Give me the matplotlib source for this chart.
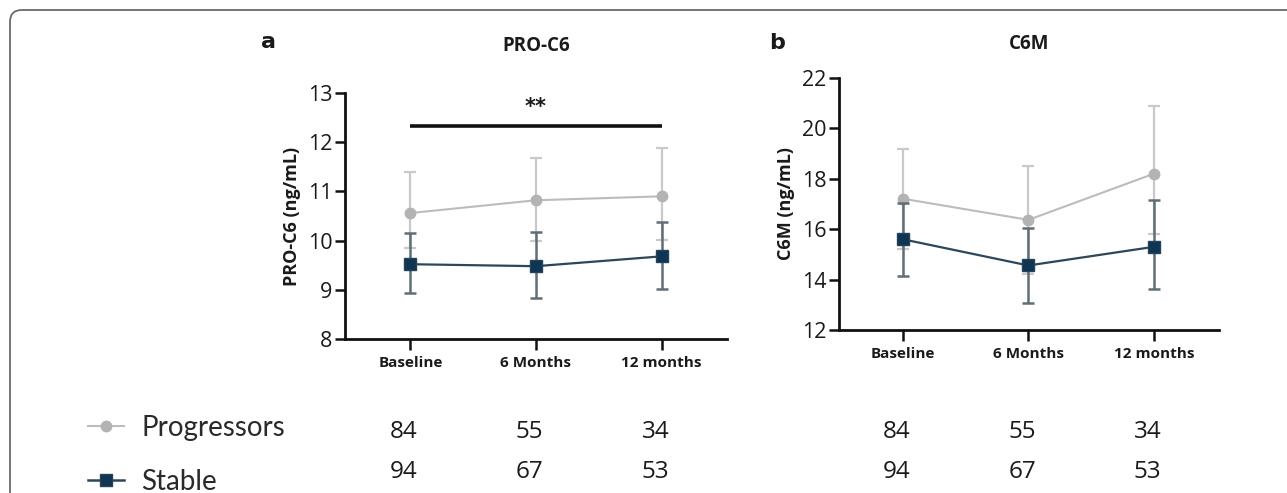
import matplotlib
matplotlib.use("Agg")
import matplotlib.pyplot as plt
import matplotlib.transforms as mtransforms
from matplotlib.lines import Line2D
from matplotlib.patches import FancyBboxPatch

# ---------------- data ----------------
timepoints = ["Baseline", "6 Months", "12 months"]

# Panel a: PRO-C6 (ng/mL)
proc6_prog_mean = [10.56, 10.82, 10.90]
proc6_prog_upper = [11.40, 11.68, 11.88]
proc6_prog_lower = [9.84, 10.00, 10.02]
proc6_stab_mean = [9.52, 9.48, 9.68]
proc6_stab_upper = [10.16, 10.18, 10.38]
proc6_stab_lower = [8.94, 8.84, 9.02]
proc6_sig_level = 12.32
proc6_sig_label = "**"

# Panel b: C6M (ng/mL)
c6m_prog_mean = [17.21, 16.37, 18.20]
c6m_prog_upper = [19.19, 18.52, 20.90]
c6m_prog_lower = [15.23, 14.22, 15.80]
c6m_stab_mean = [15.60, 14.56, 15.30]
c6m_stab_upper = [17.04, 16.03, 17.17]
c6m_stab_lower = [14.16, 13.09, 13.64]

# numbers at risk
n_progressors = [84, 55, 34]
n_stable = [94, 67, 53]

series_names = ["Progressors", "Stable"]

# ---------------- style ----------------
PROG_MARK = "#b3b3b3"
PROG_LINE = "#bcbcbc"
PROG_ERR = "#c9c9c9"
STAB_MARK = "#0f3552"
STAB_LINE = "#2e4657"
STAB_ERR = "#5f6e77"
TXT = "#1a1a1a"

W, H = 1287, 493
fig = plt.figure(figsize=(W / 100, H / 100), dpi=100)
fig.patch.set_facecolor("white")

# rounded frame around the figure
frame = FancyBboxPatch((0.10, -0.6), 13.6, 4.83 + 0.6, boxstyle="round,pad=0,rounding_size=0.12",
                       transform=fig.dpi_scale_trans, fill=False, edgecolor="#6a6a6a", linewidth=1.3,
                       clip_on=False)
fig.patches.append(frame)

def px_axes(left, right, bottom, top):
    return fig.add_axes([left / W, 1 - bottom / H, (right - left) / W, (bottom - top) / H])

ax_a = px_axes(345, 727, 339, 93)
ax_b = px_axes(839, 1219, 330, 78)

x = list(range(len(timepoints)))

def draw_panel(ax, pm, pu, pl, sm, su, sl, ylim, yticks, ylabel, title, title_pad, xlim):
    perr = [[m - l for m, l in zip(pm, pl)], [u - m for m, u in zip(pm, pu)]]
    serr = [[m - l for m, l in zip(sm, sl)], [u - m for m, u in zip(sm, su)]]
    ax.errorbar(x, pm, yerr=perr, fmt="none", ecolor=PROG_ERR, elinewidth=1.6,
                capsize=4.5, capthick=1.6, zorder=2)
    ax.plot(x, pm, color=PROG_LINE, linewidth=1.5, marker="o", markersize=7.5,
            markerfacecolor=PROG_MARK, markeredgecolor=PROG_MARK, zorder=3)
    ax.errorbar(x, sm, yerr=serr, fmt="none", ecolor=STAB_ERR, elinewidth=1.8,
                capsize=4.5, capthick=1.8, zorder=4)
    ax.plot(x, sm, color=STAB_LINE, linewidth=1.6, marker="s", markersize=8,
            markerfacecolor=STAB_MARK, markeredgecolor="#24445c", zorder=5)
    ax.set_xlim(*xlim)
    ax.set_ylim(*ylim)
    ax.set_yticks(yticks)
    ax.set_yticklabels([str(t) for t in yticks], fontsize=15.5, family="Open Sans", color=TXT)
    ax.set_xticks(x)
    ax.set_xticklabels(timepoints, fontsize=11, fontweight="bold", family="Open Sans", color=TXT)
    for s in ["top", "right"]:
        ax.spines[s].set_visible(False)
    for s in ["left", "bottom"]:
        ax.spines[s].set_linewidth(2.0)
        ax.spines[s].set_color("#111111")
    ax.tick_params(axis="y", direction="out", length=7, width=1.8, pad=2, colors="#111111")
    ax.tick_params(axis="x", direction="out", length=8, width=1.8, pad=4, colors="#111111")
    for lab in ax.get_xticklabels() + ax.get_yticklabels():
        lab.set_color(TXT)
    ax.set_ylabel(ylabel, fontsize=13, fontweight="bold", family="Open Sans", color=TXT, labelpad=5)
    ax.set_title(title, fontsize=13.5, fontweight="bold", family="Open Sans", color=TXT, pad=title_pad)
    ax.patch.set_alpha(0)

draw_panel(ax_a, proc6_prog_mean, proc6_prog_upper, proc6_prog_lower,
           proc6_stab_mean, proc6_stab_upper, proc6_stab_lower,
           (8, 13), [8, 9, 10, 11, 12, 13], "PRO-C6 (ng/mL)", "PRO-C6", 30, (-0.52, 2.52))
draw_panel(ax_b, c6m_prog_mean, c6m_prog_upper, c6m_prog_lower,
           c6m_stab_mean, c6m_stab_upper, c6m_stab_lower,
           (12, 22), [12, 14, 16, 18, 20, 22], "C6M (ng/mL)", "C6M", 21, (-0.51, 2.52))

# significance bar in panel a
ax_a.plot([x[0], x[-1]], [proc6_sig_level, proc6_sig_level], color="#111111", linewidth=2.6,
          solid_capstyle="butt", clip_on=False)
ax_a.text((x[0] + x[-1]) / 2, proc6_sig_level + 0.2, proc6_sig_label, ha="center", va="bottom",
          fontsize=15, fontweight="bold", color=TXT, family="DejaVu Sans")

# panel letters
fig.text(268 / W, 1 - 42 / H, "a", fontsize=16, fontweight="bold", family="DejaVu Sans",
         color=TXT, ha="center", va="center")
fig.text(777 / W, 1 - 43 / H, "b", fontsize=16, fontweight="bold", family="DejaVu Sans",
         color=TXT, ha="center", va="center")

# numbers at risk below each panel
row_y = [1 - 432 / H, 1 - 472 / H]
for ax in (ax_a, ax_b):
    tr = mtransforms.blended_transform_factory(ax.transData, fig.transFigure)
    for xi, n1, n2 in zip(x, n_progressors, n_stable):
        ax.text(xi - 0.05, row_y[0], str(n1), transform=tr, ha="center", va="center",
                fontsize=17.5, family="Open Sans", color=TXT, clip_on=False)
        ax.text(xi - 0.05, row_y[1], str(n2), transform=tr, ha="center", va="center",
                fontsize=17.5, family="Open Sans", color=TXT, clip_on=False)

# legend
handles = [
    Line2D([0], [0], color=PROG_LINE, linewidth=1.5, marker="o", markersize=7.5,
           markerfacecolor=PROG_MARK, markeredgecolor=PROG_MARK),
    Line2D([0], [0], color=STAB_LINE, linewidth=1.8, marker="s", markersize=8.5,
           markerfacecolor=STAB_MARK, markeredgecolor="#24445c"),
]
leg = fig.legend(handles, series_names, loc="upper left", bbox_to_anchor=(88 / W, 1 - 415 / H),
                 frameon=False, handlelength=1.3, handletextpad=0.62,
                 labelspacing=1.0, borderaxespad=0, borderpad=0,
                 prop={"family": "Lato", "size": 20})
for t in leg.get_texts():
    t.set_color("#2a2a2a")

fig.savefig("out.png", dpi=100)
